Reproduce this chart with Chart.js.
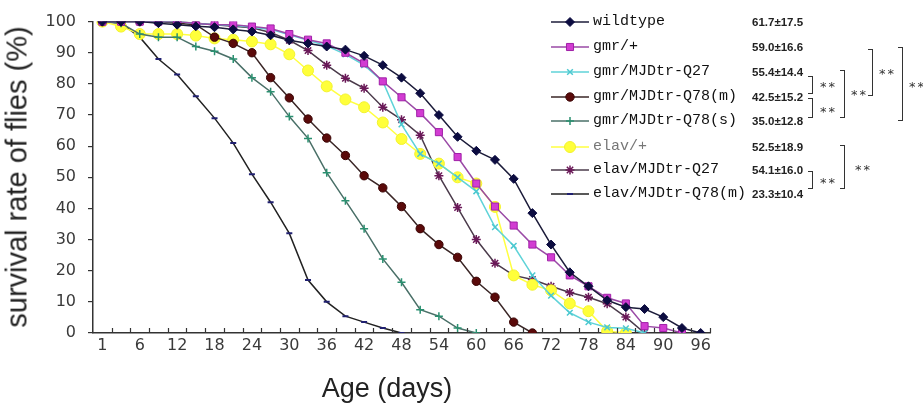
<!DOCTYPE html>
<html>
<head>
<meta charset="utf-8">
<script src="https://cdn.jsdelivr.net/npm/chart.js@4.4.1/dist/chart.umd.min.js"></script>
<style>
  body { margin: 0; background: #fff; }
  #wrap { position: relative; width: 923px; height: 408px; overflow: hidden; background: #fff; }
  #chart { position: absolute; left: 0; top: 0; }
  .ytitle { position: absolute; left: 17px; top: 177px; transform: translate(-50%, -50%) rotate(-90deg);
            font: 29px "Liberation Sans", Arial, sans-serif; color: #222; white-space: nowrap; }
  .xtitle { position: absolute; left: 387px; top: 388px; transform: translate(-50%, -50%);
            font: 27px "Liberation Sans", Arial, sans-serif; color: #222; white-space: nowrap; }
  .mark { position: absolute; left: 550px; }
  .name { position: absolute; left: 593px; font: 15px "Liberation Mono", monospace; color: #111; line-height: 20px; white-space: nowrap; }
  .mean { position: absolute; left: 752px; font: bold 11.5px "Liberation Sans", Arial, sans-serif; color: #222; line-height: 20px; white-space: nowrap; }
  .br { position: absolute; width: 4px; border: 1.5px solid #333; border-left: none; }
  .star { position: absolute; font: 13px "DejaVu Sans", sans-serif; letter-spacing: 2px; color: #333; line-height: 16px; }
</style>
</head>
<body>
<div id="wrap">
  <canvas id="chart" width="923" height="408"></canvas>
  <div class="ytitle">survival rate of flies (%)</div>
  <div class="xtitle">Age (days)</div>
  <div id="legend"></div>
  <!-- significance brackets -->
  <div class="br" style="left:808px; top:76px; height:16px;"></div>
  <div class="star" style="left:820px; top:79px;">**</div>
  <div class="br" style="left:808px; top:98px; height:18px;"></div>
  <div class="star" style="left:820px; top:104px;">**</div>
  <div class="br" style="left:840px; top:70px; height:46px;"></div>
  <div class="star" style="left:851px; top:87px;">**</div>
  <div class="br" style="left:868px; top:49px; height:45px;"></div>
  <div class="star" style="left:879px; top:66px;">**</div>
  <div class="br" style="left:898px; top:47px; height:72px;"></div>
  <div class="star" style="left:909px; top:79px;">**</div>
  <div class="br" style="left:808px; top:171px; height:16px;"></div>
  <div class="star" style="left:820px; top:175px;">**</div>
  <div class="br" style="left:840px; top:145px; height:42px;"></div>
  <div class="star" style="left:855px; top:162px;">**</div>
</div>
<script>
// --- Data ---
const days = ['1', '3', '6', '9', '12', '15', '18', '21', '24', '27', '30', '33', '36', '39', '42', '45', '48',
              '51', '54', '57', '60', '63', '66', '69', '72', '75', '78', '81', '84', '87', '90', '93', '96'];

const wildtype = [100, 100, 100, 99.5, 99, 98.5, 98.2, 97.5, 96.8, 95.6, 94, 93, 92, 91, 89, 86, 82,
                  77, 70, 63, 58.5, 55.6, 49.5, 38.5, 28.4, 19.5, 15, 10.5, 8.3, 7.7, 5.1, 1.6, 0];
const gmrCtrl = [100, 100, 100, 100, 100, 99.4, 99, 99, 98.4, 97.8, 96, 94.2, 93, 90, 86.6, 80.8, 75.7,
                 70.6, 64.5, 56.5, 48, 40.6, 34.5, 28.4, 24.3, 18.5, 15, 11.3, 9.5, 2.2, 1.6, 0, null];
const gmrQ27 = [100, 100, 100, 100, 100, 99.4, 99, 98.8, 98.2, 97.5, 95.8, 94, 92.2, 89.5, 86, 80.8, 67,
                57.5, 54.4, 50, 45.5, 34, 28, 18.5, 12, 6.5, 3.5, 1.8, 1.5, 0, null, null, null];
const gmrQ78m = [100, 100, 100, 100, 99.5, 99, 95, 93, 90, 82, 75.5, 68.7, 62.6, 57, 50.5, 46.6, 40.6,
                 33.5, 28.4, 24.3, 16.6, 11.5, 3.5, 0, null, null, null, null, null, null, null, null, null];
const gmrQ78s = [100, 99.5, 96, 95, 95, 92, 90.5, 88, 82, 77.5, 69.5, 62.5, 51.5, 42.5, 33.5, 23.8, 16.3,
                 7.5, 5.4, 1.6, 0, null, null, null, null, null, null, null, null, null, null, null, null];
const elavCtrl = [100, 98.4, 96, 96, 96, 95.5, 94.6, 94.2, 93.6, 92.7, 89.5, 84.3, 79.2, 75, 72.5, 67.6, 62.3,
                  57.5, 54.4, 50, 48, 40.5, 18.5, 15.5, 13.7, 9.5, 7, 0.6, 0, null, null, null, null];
const elavQ27 = [100, 100, 100, 100, 100, 99.5, 99, 98.5, 98, 96.5, 94, 90.7, 86, 81.8, 78.6, 72.5, 68.5,
                 63.5, 50.5, 40.3, 30, 22.4, 18.5, 17.2, 15, 13, 11.5, 9.4, 5.1, 0, null, null, null];
const elavQ78m = [100, 99.5, 95, 88, 83, 76, 69, 61, 51, 42, 32, 17, 10, 5.4, 3.5, 1.6, 0,
                  null, null, null, null, null, null, null, null, null, null, null, null, null, null, null, null];

const seriesNames = ['wildtype', 'gmr/+', 'gmr/MJDtr-Q27', 'gmr/MJDtr-Q78(m)', 'gmr/MJDtr-Q78(s)',
                     'elav/+', 'elav/MJDtr-Q27', 'elav/MJDtr-Q78(m)'];
const meanLife = ['61.7±17.5', '59.0±16.6', '55.4±14.4', '42.5±15.2', '35.0±12.8',
                  '52.5±18.9', '54.1±16.0', '23.3±10.4'];
const seriesData = [wildtype, gmrCtrl, gmrQ27, gmrQ78m, gmrQ78s, elavCtrl, elavQ27, elavQ78m];

// --- Styles ---
const styles = [
    { line: '#1c1c3a', fill: '#0c0c40', edge: '#0c0c40', shape: 'rectRot', r: 4.5, bw: 1 },
    { line: '#9a4aa6', fill: '#d23cd2', edge: '#a020a8', shape: 'rect', r: 5, bw: 1 },
    { line: '#5fd3d8', fill: '#5fd3d8', edge: '#4cc8d0', shape: 'crossRot', r: 4, bw: 1.5 },
    { line: '#3a2626', fill: '#5a0a0a', edge: '#3a0505', shape: 'circle', r: 4.2, bw: 1 },
    { line: '#4a7068', fill: '#2a9070', edge: '#2a9070', shape: 'cross', r: 4, bw: 1.5 },
    { line: '#ffff40', fill: '#ffff3a', edge: '#f2f22e', shape: 'circle', r: 5.5, bw: 1 },
    { line: '#4b3b4b', fill: '#7a2060', edge: '#6a1858', shape: 'star', r: 4.5, bw: 1.5 },
    { line: '#222222', fill: '#202070', edge: '#202070', shape: 'line', r: 3, bw: 2 }
];
const rowY = [22, 47, 72, 97, 121, 147, 170, 194];

// tick marks pointing up into the plot, between categories
const innerTicks = {
    id: 'innerTicks',
    afterDraw(chart) {
        const s = chart.scales.x;
        const ctx = chart.ctx;
        const n = s.ticks.length;
        const step = s.width / n;
        ctx.save();
        ctx.strokeStyle = '#333';
        ctx.lineWidth = 1.2;
        ctx.beginPath();
        for (let k = 1; k <= n; k++) {
            const x = Math.round(s.left + k * step) + 0.5;
            ctx.moveTo(x, s.top);
            ctx.lineTo(x, s.top - 5);
        }
        ctx.stroke();
        ctx.restore();
    }
};

const datasets = seriesData.map((d, i) => ({
    label: seriesNames[i],
    data: d,
    borderColor: styles[i].line,
    borderWidth: 1.5,
    pointStyle: styles[i].shape,
    pointRadius: styles[i].r,
    pointBackgroundColor: styles[i].fill,
    pointBorderColor: styles[i].edge,
    pointBorderWidth: styles[i].bw,
    tension: 0,
    fill: false
}));

new Chart(document.getElementById('chart'), {
    type: 'line',
    data: { labels: days, datasets },
    options: {
        responsive: false,
        animation: false,
        devicePixelRatio: 1,
        layout: { padding: { top: 17, right: 213, left: 0, bottom: 0 } },
        plugins: { legend: { display: false }, tooltip: { enabled: false } },
        scales: {
            x: {
                type: 'category',
                offset: true,
                grid: { display: false, drawTicks: false, offset: true },
                border: { display: true, color: '#333', width: 1.5 },
                ticks: {
                    autoSkip: false, maxRotation: 0, padding: 3,
                    color: '#3a3a3a', font: { family: 'DejaVu Sans', size: 16 },
                    callback(val, idx) { return idx % 2 === 0 ? this.getLabelForValue(val) : ''; }
                },
                afterFit(scale) { scale.height = 75; }
            },
            y: {
                min: 0, max: 100,
                grid: { drawOnChartArea: false, drawTicks: true, tickLength: 5, color: '#333', lineWidth: 1.2 },
                border: { display: true, color: '#333', width: 1.5 },
                ticks: { stepSize: 10, padding: 12, color: '#3a3a3a', font: { family: 'DejaVu Sans', size: 16 } },
                afterFit(scale) { scale.width = 93; }
            }
        }
    },
    plugins: [innerTicks]
});

// --- HTML legend ---
const legend = document.getElementById('legend');
seriesNames.forEach((name, i) => {
    const st = styles[i];
    const c = document.createElement('canvas');
    c.width = 40; c.height = 16;
    c.className = 'mark';
    c.style.top = (rowY[i] - 8) + 'px';
    const ctx = c.getContext('2d');
    ctx.strokeStyle = st.line;
    ctx.lineWidth = 1.5;
    ctx.beginPath(); ctx.moveTo(1, 8); ctx.lineTo(39, 8); ctx.stroke();
    ctx.fillStyle = st.fill;
    ctx.strokeStyle = st.edge;
    ctx.lineWidth = st.bw;
    Chart.helpers.drawPoint(ctx, { pointStyle: st.shape, radius: st.r, borderWidth: st.bw, rotation: 0 }, 20, 8);
    legend.appendChild(c);

    const t = document.createElement('div');
    t.className = 'name';
    t.style.top = (rowY[i] - 10) + 'px';
    if (name === 'elav/+') t.style.color = '#777';
    t.textContent = name;
    legend.appendChild(t);

    const m = document.createElement('div');
    m.className = 'mean';
    m.style.top = (rowY[i] - 10) + 'px';
    m.textContent = meanLife[i];
    legend.appendChild(m);
});
</script>
</body>
</html>
